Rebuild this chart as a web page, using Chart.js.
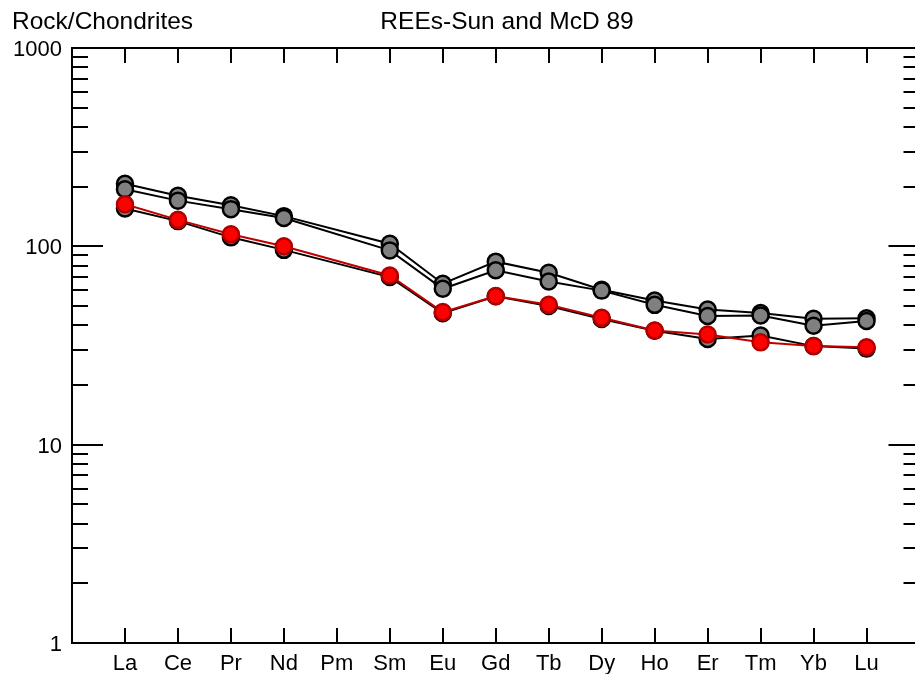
<!DOCTYPE html>
<html>
<head>
<meta charset="utf-8">
<script src="https://cdn.jsdelivr.net/npm/chart.js@4/dist/chart.umd.min.js"></script>
<style>
  html, body { margin: 0; padding: 0; background: #fff; }
  #wrap { width: 915px; height: 674px; overflow: hidden; position: relative; }
  canvas { display: block; }
</style>
</head>
<body>
<div id="wrap"><canvas id="ree" width="930" height="674"></canvas></div>
<script>
// REE elements along the x axis (Pm has no analysis)
const elements = ['La', 'Ce', 'Pr', 'Nd', 'Pm', 'Sm', 'Eu', 'Gd', 'Tb', 'Dy', 'Ho', 'Er', 'Tm', 'Yb', 'Lu'];
// Chondrite normalised values
const sampleA = [207, 180, 161, 142, null, 103, 64.8, 83.7, 73.6, 60.4, 53.3, 48.0, 46.1, 43.1, 43.4];
const sampleB = [194, 170, 154, 139, null, 95.4, 61.1, 75.7, 66.5, 59.8, 50.7, 44.5, 44.8, 39.8, 42.0];
const sampleC = [155, 134, 111, 96, null, 70, 46, 56, 50, 43, 37.5, 34.1, 35.5, 31.4, 30.5];
const sampleD = [163, 136, 115, 100, null, 71.3, 46.6, 56.1, 50.7, 43.6, 37.6, 35.9, 32.8, 31.4, 31.0];
// y axis labels
const yLabels = [1, 10, 100, 1000];

const FONT = '"Liberation Sans", Arial, sans-serif';

function toPoints(values) {
    return values.map((v, i) => ({ x: i + 1, y: v }));
}

function series(values, fill, border, line) {
    return {
        data: toPoints(values),
        borderColor: line,
        borderWidth: 2,
        pointBackgroundColor: fill,
        pointBorderColor: border,
        pointBorderWidth: 2.5,
        pointRadius: 8,
        pointHoverRadius: 8,
        spanGaps: true,
        tension: 0
    };
}

// Frame with inward ticks, plus the two header texts
const frameTicks = {
    id: 'frameTicks',
    beforeDatasetsDraw(chart) {
        const { ctx, chartArea: a, scales: { x, y } } = chart;
        ctx.save();
        ctx.strokeStyle = '#000';
        ctx.lineWidth = 2;
        ctx.strokeRect(a.left, a.top, a.right - a.left, a.bottom - a.top);
        ctx.beginPath();
        elements.forEach((e, i) => {
            const px = Math.round(x.getPixelForValue(i + 1));
            ctx.moveTo(px, a.bottom);
            ctx.lineTo(px, a.bottom - 15);
            ctx.moveTo(px, a.top);
            ctx.lineTo(px, a.top + 15);
        });
        [1, 10, 100].forEach(d => {
            for (let m = 1; m <= 9; m++) {
                const len = m === 1 ? 31 : 16;
                const py = Math.round(y.getPixelForValue(d * m));
                ctx.moveTo(a.left, py);
                ctx.lineTo(a.left + len, py);
                ctx.moveTo(a.right, py);
                ctx.lineTo(a.right - len, py);
            }
        });
        ctx.stroke();
        ctx.restore();
    },
    afterDraw(chart) {
        const ctx = chart.ctx;
        ctx.save();
        ctx.fillStyle = '#000';
        ctx.font = '24.5px ' + FONT;
        ctx.textBaseline = 'alphabetic';
        ctx.textAlign = 'left';
        ctx.fillText('Rock/Chondrites', 12, 29);
        ctx.textAlign = 'center';
        ctx.fillText('REEs-Sun and McD 89', 507, 29);
        ctx.restore();
    }
};

const chart = new Chart(document.getElementById('ree'), {
    type: 'line',
    data: {
        datasets: [
            series(sampleD, '#ff0000', '#b00000', '#c00000'),
            series(sampleC, '#808080', '#000000', '#000000'),
            series(sampleB, '#808080', '#000000', '#000000'),
            series(sampleA, '#808080', '#000000', '#000000')
        ]
    },
    options: {
        responsive: false,
        animation: false,
        layout: { padding: { left: 0, top: 48, right: 7, bottom: 0 } },
        plugins: {
            legend: { display: false },
            tooltip: { enabled: false }
        },
        scales: {
            x: {
                type: 'linear',
                min: 0,
                max: 16,
                grid: { display: false, drawTicks: false },
                border: { display: false },
                afterBuildTicks: scale => {
                    scale.ticks = elements.map((e, i) => ({ value: i + 1 }));
                },
                afterFit: scale => { scale.height = 31; },
                ticks: {
                    autoSkip: false,
                    maxRotation: 0,
                    padding: 8,
                    color: '#000',
                    font: { family: FONT, size: 22 },
                    callback: value => elements[Math.round(value) - 1] || ''
                }
            },
            y: {
                type: 'logarithmic',
                min: 1,
                max: 1000,
                grid: { display: false, drawTicks: false },
                border: { display: false },
                afterBuildTicks: scale => {
                    scale.ticks = yLabels.map(v => ({ value: v }));
                },
                afterFit: scale => { scale.width = 72; },
                ticks: {
                    padding: 10,
                    labelOffset: 2,
                    color: '#000',
                    font: { family: FONT, size: 22 },
                    callback: value => String(value)
                }
            }
        }
    },
    plugins: [frameTicks]
});
</script>
</body>
</html>
